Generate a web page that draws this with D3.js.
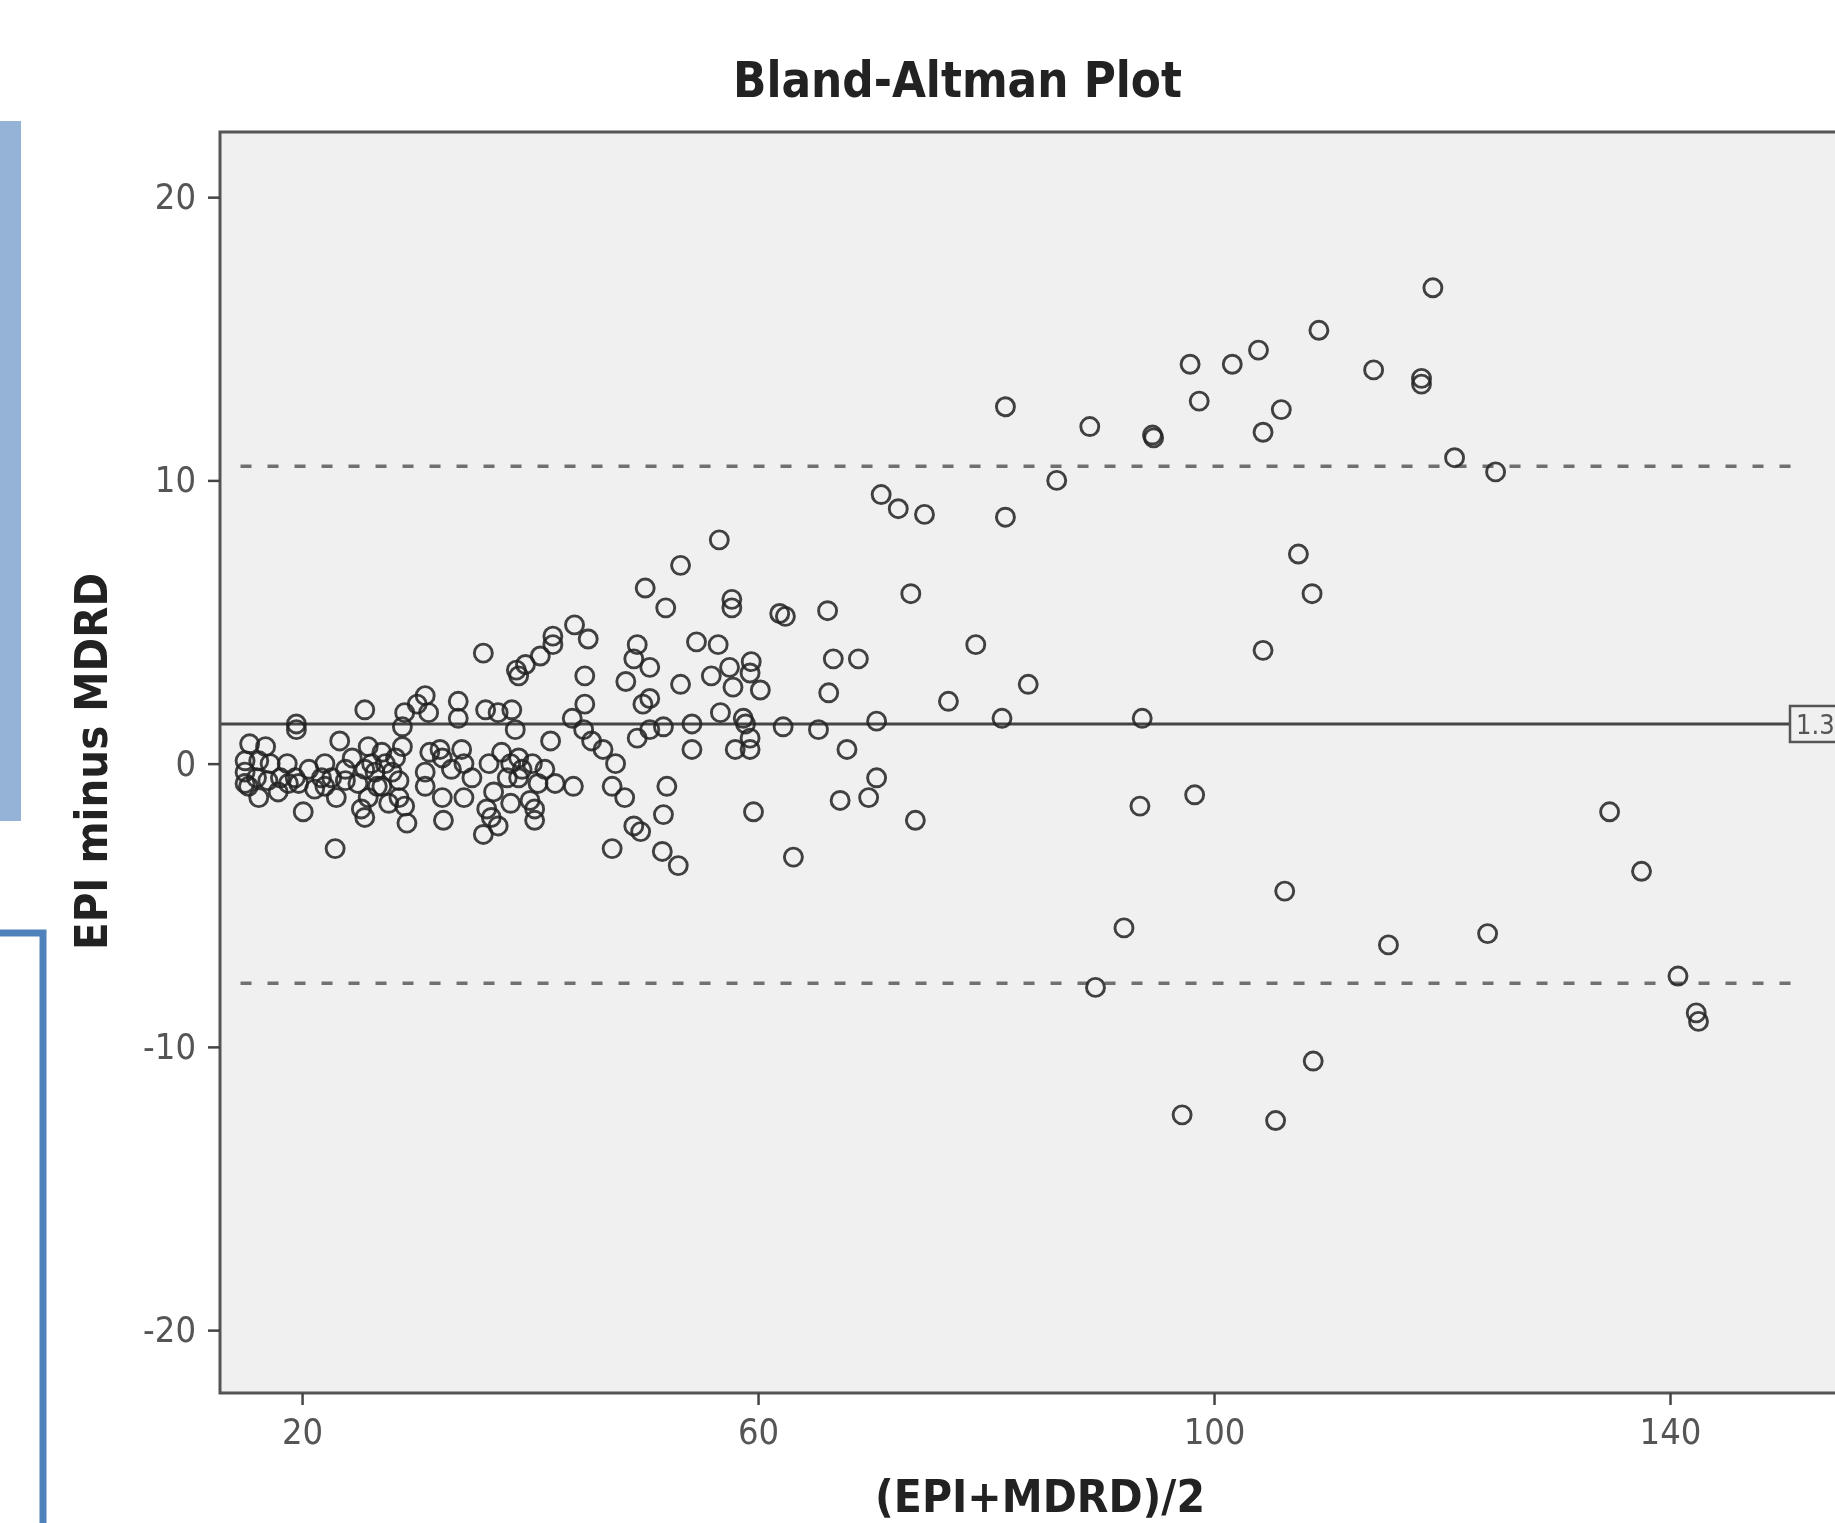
<!DOCTYPE html>
<html>
<head>
<meta charset="utf-8">
<script src="https://cdn.jsdelivr.net/npm/d3@7"></script>
<style>
  body { margin: 0; background: #fff; }
  svg { display: block; }
  .narrow { font-family: "Liberation Sans Narrow", "Arial Narrow", "DejaVu Sans Condensed", sans-serif; }
</style>
</head>
<body>
<svg id="chart" width="1835" height="1523"></svg>
<script>
// [ (EPI+MDRD)/2 , EPI minus MDRD ]
const pointsLow = [
  [15.4, 0.7], [16.8, 0.6], [15.0, 0.1], [16.2, 0.1], [17.2, 0.0], [18.7, 0.0], [15.0, -0.7], [15.3, -0.8],
  [16.2, -1.2], [17.0, -0.6], [17.9, -1.0], [19.4, -0.5], [19.7, -0.7], [19.5, 1.4], [19.5, 1.2], [20.1, -1.7],
  [20.6, -0.2], [21.1, -0.9], [22.0, -0.8], [22.0, 0.0], [22.6, -0.5], [23.3, 0.8], [23.0, -1.2], [22.9, -3.0],
  [23.8, -0.2], [23.8, -0.6], [24.4, 0.2], [25.5, 1.9], [24.9, -0.7], [25.2, -1.6], [25.5, -1.9], [25.8, 0.6],
  [26.1, 0.0], [26.4, -0.3], [27.0, 0.4], [27.0, -0.8], [27.6, -1.4], [27.9, -0.3], [28.2, 0.2], [28.5, -0.6],
  [28.8, 1.3], [29.0, 1.8], [29.2, -2.1], [29.0, -1.5], [28.8, 0.6], [15.0, -0.3], [16.0, -0.5], [18.1, -0.5],
  [18.8, -0.7], [21.7, -0.5], [25.5, -0.2], [26.6, -0.8], [27.3, 0.0], [25.8, -1.2], [28.5, -1.2]
];
const pointsMidLow = [
  [30.1, 2.1], [30.8, 2.4], [31.1, 1.8], [30.8, -0.8], [31.2, 0.4], [32.1, 0.5], [32.3, -1.2], [32.4, -2.0],
  [33.7, 2.2], [33.7, 1.6], [34.0, 0.5], [34.2, -1.2], [34.9, -0.5], [35.9, 3.9], [36.1, 1.9], [36.4, 0.0],
  [36.2, -1.6], [35.9, -2.5], [36.8, -1.0], [37.2, 1.8], [37.5, 0.4], [38.0, -0.5], [38.3, -1.4], [38.4, 1.9],
  [38.7, 1.2], [39.0, 0.2], [38.8, 3.3], [39.0, 3.1], [39.6, 3.5], [39.3, -0.2], [40.2, 0.0], [40.4, -1.6],
  [40.4, -2.0], [40.9, 3.8], [41.3, -0.2], [41.8, 0.8], [42.0, 4.5], [42.2, -0.7], [43.8, -0.8], [43.7, 1.6],
  [44.7, 1.2], [44.8, 3.1], [44.8, 2.1], [45.1, 4.4], [45.4, 0.8], [46.4, 0.5], [42.0, 4.2], [43.9, 4.9],
  [30.8, -0.3], [32.3, 0.2], [33.1, -0.2], [34.2, 0.0], [38.3, 0.0], [39.0, -0.5], [40.7, -0.7], [40.0, -1.3],
  [36.6, -1.9], [37.2, -2.2]
];
const pointsMid = [
  [70.8, 9.5], [72.3, 9.0], [74.6, 8.8], [56.6, 7.9], [73.4, 6.0], [53.2, 7.0], [50.1, 6.2], [51.9, 5.5],
  [57.7, 5.8], [57.7, 5.5], [61.9, 5.3], [62.4, 5.2], [66.1, 5.4], [79.1, 4.2], [49.4, 4.2], [49.1, 3.7],
  [50.5, 3.4], [48.4, 2.9], [54.6, 4.3], [56.5, 4.2], [53.2, 2.8], [55.9, 3.1], [57.5, 3.4], [59.4, 3.6],
  [59.3, 3.2], [60.2, 2.6], [57.8, 2.7], [66.6, 3.7], [68.8, 3.7], [66.2, 2.5], [76.7, 2.2], [49.9, 2.1],
  [50.5, 2.3], [49.4, 0.9], [50.5, 1.2], [51.7, 1.3], [54.2, 1.4], [56.7, 1.8], [58.7, 1.6], [58.9, 1.4],
  [59.3, 0.9], [59.3, 0.5], [58.0, 0.5], [54.2, 0.5], [62.2, 1.3], [65.3, 1.2], [70.4, 1.5], [67.8, 0.5],
  [47.5, 0.0], [47.2, -0.8], [47.2, -3.0], [48.3, -1.2], [49.1, -2.2], [49.7, -2.4], [51.6, -3.1], [52.0, -0.8],
  [51.7, -1.8], [53.0, -3.6], [70.4, -0.5], [69.7, -1.2], [67.2, -1.3], [59.6, -1.7], [73.8, -2.0], [63.1, -3.3]
];
const pointsHigh = [
  [83.7, 2.8], [81.4, 1.6], [93.7, 1.6], [93.5, -1.5], [98.3, -1.1], [119.2, 16.8], [109.2, 15.3], [97.9, 14.1],
  [101.6, 14.1], [103.9, 14.6], [114.0, 13.9], [118.2, 13.6], [118.2, 13.4], [81.7, 12.6], [98.7, 12.8],
  [105.9, 12.5], [89.1, 11.9], [94.6, 11.6], [94.7, 11.5], [104.3, 11.7], [121.1, 10.8], [124.7, 10.3],
  [86.2, 10.0], [81.7, 8.7], [107.4, 7.4], [108.6, 6.0], [104.3, 4.0], [106.2, -4.5], [92.1, -5.8],
  [115.3, -6.4], [124.0, -6.0], [89.6, -7.9], [108.7, -10.5], [97.2, -12.4], [105.4, -12.6],
  [134.7, -1.7], [137.5, -3.8], [140.7, -7.5], [142.3, -8.8], [142.5, -9.1]
];

const xTicks = [20, 60, 100, 140];
const yTicks = [-20, -10, 0, 10, 20];
const meanDiff = 1.4;
const upperLoA = 10.5;
const lowerLoA = -7.75;
const loaSpan = [14.6, 150.8];
const meanLabel = '1.3';

const svg = d3.select('#chart');
const frame = { left: 220, top: 132, bottom: 1393, right: 1898 };

const x = d3.scaleLinear().domain([12.8, 160]).range([frame.left, frame.right]);
const y = d3.scaleLinear().domain([-22.22, 22.3]).range([frame.bottom, frame.top]);

// slight softening like the scanned original
const defs = svg.append('defs');
defs.append('filter').attr('id', 'soft')
  .append('feGaussianBlur').attr('stdDeviation', 0.7);
defs.append('clipPath').attr('id', 'plotClip')
  .append('rect')
  .attr('x', frame.left).attr('y', frame.top)
  .attr('width', frame.right - frame.left).attr('height', frame.bottom - frame.top);

const g = svg.append('g').attr('filter', 'url(#soft)');

//左侧的蓝色装饰
g.append('rect').attr('x', 0).attr('y', 121).attr('width', 21).attr('height', 700).attr('fill', '#95b3d7');
g.append('path')
  .attr('d', 'M0,933 L43,933 L43,1523')
  .attr('fill', 'none')
  .attr('stroke', '#4f81bd')
  .attr('stroke-width', 7);

//绘图区背景
g.append('rect')
  .attr('x', frame.left).attr('y', frame.top)
  .attr('width', frame.right - frame.left).attr('height', frame.bottom - frame.top)
  .attr('fill', '#f0f0f0');

const plot = g.append('g').attr('clip-path', 'url(#plotClip)');

//limits of agreement
plot.selectAll('.loa')
  .data([upperLoA, lowerLoA])
  .enter()
  .append('line')
  .attr('class', 'loa')
  .attr('x1', x(loaSpan[0])).attr('x2', x(loaSpan[1]))
  .attr('y1', (d) => y(d)).attr('y2', (d) => y(d))
  .attr('stroke', '#707070')
  .attr('stroke-width', 3.5)
  .attr('stroke-dasharray', '11,16');

//mean difference
plot.append('line')
  .attr('x1', frame.left).attr('x2', 1790)
  .attr('y1', y(meanDiff)).attr('y2', y(meanDiff))
  .attr('stroke', '#444')
  .attr('stroke-width', 3);

const allPoints = [...pointsLow, ...pointsMidLow, ...pointsMid, ...pointsHigh];

plot.selectAll('.pt')
  .data(allPoints)
  .enter()
  .append('circle')
  .attr('class', 'pt')
  .attr('cx', (d) => x(d[0]))
  .attr('cy', (d) => y(d[1]))
  .attr('r', 9)
  .attr('fill', 'none')
  .attr('stroke', '#222')
  .attr('stroke-opacity', 0.85)
  .attr('stroke-width', 2.9);

//frame
g.append('path')
  .attr('d', `M${frame.right},${frame.top} L${frame.left},${frame.top} L${frame.left},${frame.bottom} L${frame.right},${frame.bottom}`)
  .attr('fill', 'none')
  .attr('stroke', '#555')
  .attr('stroke-width', 3);

//mean label box, runs off the right edge like the original
const lab = g.append('g').attr('transform', `translate(1790,${y(meanDiff)})`);
lab.append('rect')
  .attr('x', 0).attr('y', -18).attr('width', 70).attr('height', 36)
  .attr('fill', '#f0f0f0').attr('stroke', '#555').attr('stroke-width', 2.5);
lab.append('text')
  .attr('class', 'narrow')
  .attr('x', 6).attr('y', 10)
  .attr('font-size', 27)
  .attr('fill', '#555')
  .text(meanLabel);

//axes
const yAxis = g.append('g')
  .attr('transform', `translate(${frame.left},0)`)
  .call(d3.axisLeft(y).tickValues(yTicks).tickSize(12).tickPadding(12).tickFormat((d) => String(d)));
const xAxis = g.append('g')
  .attr('transform', `translate(0,${frame.bottom})`)
  .call(d3.axisBottom(x).tickValues(xTicks).tickSize(12).tickPadding(13).tickFormat((d) => String(d)));

for (let ax of [xAxis, yAxis]) {
  ax.select('.domain').remove();
  ax.selectAll('line').attr('stroke', '#444').attr('stroke-width', 2.5);
  ax.selectAll('text')
    .attr('class', 'narrow')
    .attr('font-size', 36)
    .attr('fill', '#555');
}

//titles
g.append('text')
  .attr('class', 'narrow')
  .attr('x', 733).attr('y', 97)
  .attr('font-size', 50).attr('font-weight', 'bold')
  .attr('textLength', 449).attr('lengthAdjust', 'spacingAndGlyphs')
  .attr('fill', '#222')
  .text('Bland-Altman Plot');

g.append('text')
  .attr('class', 'narrow')
  .attr('x', 875).attr('y', 1512)
  .attr('font-size', 44).attr('font-weight', 'bold')
  .attr('textLength', 330).attr('lengthAdjust', 'spacingAndGlyphs')
  .attr('fill', '#222')
  .text('(EPI+MDRD)/2');

g.append('text')
  .attr('class', 'narrow')
  .attr('transform', 'translate(107,950) rotate(-90)')
  .attr('font-size', 44).attr('font-weight', 'bold')
  .attr('textLength', 377).attr('lengthAdjust', 'spacingAndGlyphs')
  .attr('fill', '#222')
  .text('EPI minus MDRD');
</script>
</body>
</html>
